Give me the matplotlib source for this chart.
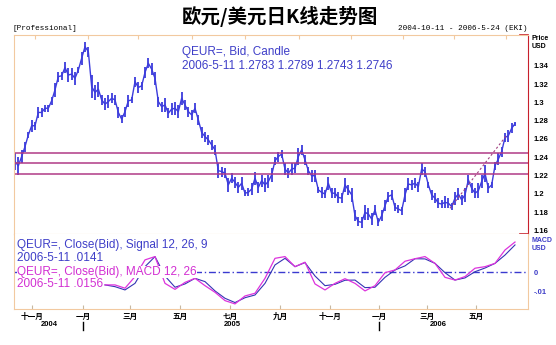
import numpy as np
import matplotlib.pyplot as plt

plt.rcParams['font.family'] = ['Noto Sans CJK SC', 'DejaVu Sans']

title = "欧元/美元日K线走势图"
range_text = "2004-10-11 - 2006-5-24 (EKI)"
last_date = "2006-5-11"

# daily bars, high / low
bar_high = [
    1.2444, 1.2407, 1.2480, 1.2571, 1.2680, 1.2808, 1.2790, 1.2953, 1.2935, 1.2972,
    1.2972, 1.3063, 1.3208, 1.3336, 1.3336, 1.3445, 1.3372, 1.3372, 1.3336, 1.3390,
    1.3554, 1.3663, 1.3609, 1.3299, 1.3190, 1.3226, 1.3081, 1.3044, 1.3081, 1.3099,
    1.3081, 1.2953, 1.2862, 1.2953, 1.3081, 1.3063, 1.3281, 1.3226, 1.3226, 1.3390,
    1.3481, 1.3427, 1.3336, 1.3063, 1.3008, 1.3044, 1.2935, 1.2990, 1.3008, 1.2972,
    1.3117, 1.3026, 1.2953, 1.2917, 1.2990, 1.2862, 1.2735, 1.2680, 1.2644, 1.2589,
    1.2535, 1.2335, 1.2298, 1.2280, 1.2171, 1.2225, 1.2189, 1.2134, 1.2189, 1.2043,
    1.2062, 1.2116, 1.2244, 1.2134, 1.2207, 1.2171, 1.2207,
    1.2280, 1.2407, 1.2462, 1.2480, 1.2335, 1.2280, 1.2335, 1.2335, 1.2498, 1.2535,
    1.2426, 1.2298, 1.2262, 1.2262, 1.2080, 1.2080, 1.2043, 1.2189, 1.2062, 1.2062,
    1.2025, 1.2007, 1.2171, 1.2098, 1.2062, 1.1825, 1.1752, 1.1752, 1.1880, 1.1843,
    1.1789, 1.1880, 1.1734, 1.1825, 1.1934, 1.2025, 1.2043, 1.1898, 1.1880, 1.1861,
    1.2062, 1.2171, 1.2153, 1.2171, 1.2134, 1.2335, 1.2298, 1.2134, 1.2043, 1.2007,
    1.1952, 1.1934, 1.1971, 1.1952, 1.1898, 1.2025, 1.2062, 1.1989, 1.2062, 1.2207,
    1.2116, 1.2062, 1.2116, 1.2207, 1.2316, 1.2116, 1.2134, 1.2353, 1.2444, 1.2517,
    1.2662, 1.2699, 1.2771,
]
bar_low = [
    1.2262, 1.2207, 1.2335, 1.2462, 1.2608, 1.2680, 1.2699, 1.2826, 1.2844, 1.2899,
    1.2899, 1.2972, 1.3063, 1.3226, 1.3245, 1.3317, 1.3226, 1.3245, 1.3190, 1.3317,
    1.3408, 1.3554, 1.3499, 1.3044, 1.3026, 1.3063, 1.2972, 1.2917, 1.2935, 1.2990,
    1.2972, 1.2826, 1.2771, 1.2844, 1.2953, 1.2990, 1.3172, 1.3099, 1.3135, 1.3263,
    1.3372, 1.3299, 1.3190, 1.2953, 1.2899, 1.2899, 1.2826, 1.2862, 1.2862, 1.2826,
    1.2972, 1.2917, 1.2844, 1.2808, 1.2881, 1.2753, 1.2608, 1.2571, 1.2535, 1.2480,
    1.2426, 1.2171, 1.2189, 1.2171, 1.2025, 1.2116, 1.2062, 1.2007, 1.2043, 1.1971,
    1.1971, 1.1989, 1.2098, 1.2007, 1.2080, 1.2025, 1.2062,
    1.2134, 1.2316, 1.2353, 1.2389, 1.2207, 1.2171, 1.2207, 1.2225, 1.2316, 1.2426,
    1.2316, 1.2207, 1.2134, 1.2134, 1.2007, 1.1952, 1.1952, 1.2043, 1.1952, 1.1952,
    1.1898, 1.1898, 1.2025, 1.1989, 1.1916, 1.1698, 1.1643, 1.1625, 1.1716, 1.1716,
    1.1661, 1.1770, 1.1643, 1.1698, 1.1807, 1.1916, 1.1934, 1.1807, 1.1789, 1.1770,
    1.1916, 1.2043, 1.2043, 1.2062, 1.2025, 1.2207, 1.2189, 1.2062, 1.1934, 1.1898,
    1.1843, 1.1843, 1.1843, 1.1843, 1.1825, 1.1880, 1.1934, 1.1880, 1.1916, 1.2098,
    1.2007, 1.1952, 1.1952, 1.2062, 1.2134, 1.2007, 1.2062, 1.2262, 1.2316, 1.2407,
    1.2571, 1.2571, 1.2662,
]
# open, high, low, close of the last bar
last_ohlc = [1.2783, 1.2789, 1.2743, 1.2746]

levels = [1.2451, 1.2333, 1.2215]
trend_x = [130.5, 147.6]
trend_y = [1.1842, 1.2645]

# MACD(12,26) and signal(9), every third bar from bar 27
macd_start = 27
macd_step = 3
macd = [
    -0.0065, -0.0065, -0.0082, -0.0022, 0.0064, 0.0081, -0.0057, -0.0088, -0.0052, -0.0031,
    -0.0069, -0.0103, -0.0146, -0.0163, -0.0122, -0.0108, -0.0031, 0.0072, 0.0081, 0.0029,
    0.0052, -0.0060, -0.0091, -0.0057, -0.0033, -0.0057, -0.0096, -0.0069, -0.0002, 0.0012,
    0.0057, 0.0070, 0.0081, 0.0046, -0.0026, -0.0040, -0.0022, 0.0021, 0.0029, 0.0046,
    0.0115, 0.0156,
]
signal = [
    -0.0065, -0.0074, -0.0091, -0.0057, 0.0029, 0.0081, -0.0019, -0.0077, -0.0060, -0.0031,
    -0.0048, -0.0096, -0.0134, -0.0156, -0.0131, -0.0117, -0.0057, 0.0038, 0.0072, 0.0029,
    0.0050, -0.0019, -0.0069, -0.0062, -0.0041, -0.0040, -0.0079, -0.0077, -0.0026, 0.0012,
    0.0033, 0.0070, 0.0069, 0.0046, -0.0002, -0.0040, -0.0029, 0.0003, 0.0022, 0.0046,
    0.0089, 0.0141,
]

month_pos = [5.1, 20.4, 34.5, 49.5, 64.5, 79.5, 94.5, 109.2, 123.6, 138.3]
month_labels = ["十一月", "一月", "三月", "五月", "七月", "九月", "十一月", "一月", "三月", "五月"]
year_pos = [10.2, 65.1, 126.9]
year_labels = ["2004", "2005", "2006"]
year_breaks = [20.4, 109.2]
top_ticks = [6.0, 21.9, 36.9, 53.1, 69.0, 85.2, 100.8, 116.4, 131.7, 147.3]
price_ticks = [1.16, 1.18, 1.2, 1.22, 1.24, 1.26, 1.28, 1.3, 1.32, 1.34]
macd_ticks = [-0.01, 0.0]
macd_tick_labels = ["-.01", "0"]

candle_color = '#3c3cdc'
macd_color = '#dd33dd'
signal_color = '#3434b4'
level_color = '#b03a86'
frame_color = '#f2c9a0'
red = '#c8202c'
blue_txt = '#3e3ec8'
mag_txt = '#d22ed2'

highs = np.array(bar_high + [last_ohlc[1]])
lows = np.array(bar_low + [last_ohlc[2]])
x = np.arange(len(highs))
mx = np.arange(len(macd)) * macd_step + macd_start

fig = plt.figure(figsize=(5.56, 3.45), dpi=100)
ax = fig.add_axes([14 / 556, 1 - 234 / 345, 514 / 556, 199 / 345])
ax2 = fig.add_axes([14 / 556, 1 - 309 / 345, 514 / 556, 75 / 345])

# ---- price panel: high-low bars joined bar to bar
ax.vlines(x, lows, highs, color=candle_color, linewidth=1.3)
ax.plot(x, (highs + lows) / 2, color=candle_color, linewidth=1.0)
for lv in levels:
    ax.axhline(lv, color=level_color, linewidth=1.1)
ax.plot(trend_x, trend_y, color='#a04080', linewidth=0.8, linestyle=(0, (2, 2)))
ax.set_xlim(-0.3, 153.9)
ax.set_ylim(1.1561, 1.3736)

ax.yaxis.tick_right()
ax.set_yticks(price_ticks)
ax.set_yticklabels(['%g' % t for t in price_ticks], fontfamily='Liberation Sans',
                   fontweight='bold', fontsize=5.5)
ax.tick_params(axis='y', length=0, pad=4)
ax.set_xticks(top_ticks)
ax.tick_params(axis='x', top=True, bottom=False, labeltop=False, labelbottom=False,
               direction='in', length=3, color=frame_color)
for s in ['left', 'top', 'bottom']:
    ax.spines[s].set_color(frame_color)
ax.spines['right'].set_color(red)
ax.plot([0.985, 1.0], [1.0, 1.0], transform=ax.transAxes, color=red, lw=1.2, clip_on=False)
ax.plot([0.985, 1.0], [0.0, 0.0], transform=ax.transAxes, color=red, lw=1.2, clip_on=False)

o_, h_, l_, c_ = last_ohlc
ax.text(0.327, 0.915, "QEUR=, Bid, Candle", transform=ax.transAxes, va='center',
        color=blue_txt, fontsize=8.5, family='Liberation Sans')
ax.text(0.327, 0.844, f"{last_date} {o_:.4f} {h_:.4f} {l_:.4f} {c_:.4f}",
        transform=ax.transAxes, va='center', color=blue_txt, fontsize=8.5,
        family='Liberation Sans')

# ---- MACD panel
ax2.axhline(0, color='#3a3ad0', linewidth=1.0, linestyle=(0, (5, 2, 1, 2)))
ax2.plot(mx, signal, color=signal_color, linewidth=0.8)
ax2.plot(mx, macd, color=macd_color, linewidth=0.9)
ax2.set_xlim(-0.3, 153.9)
ax2.set_ylim(-0.01892, 0.01974)
ax2.yaxis.tick_right()
ax2.set_yticks(macd_ticks)
ax2.set_yticklabels(macd_tick_labels, fontfamily='Liberation Sans', fontweight='bold',
                    fontsize=5.5, color=blue_txt)
ax2.tick_params(axis='y', length=0, pad=4)
ax2.set_xticks(month_pos)
ax2.set_xticklabels(month_labels, fontsize=5.5, fontweight='bold')
ax2.tick_params(axis='x', direction='in', length=3, color='#c8b8a0', pad=2)
for s in ax2.spines.values():
    s.set_color(frame_color)
ax2.spines['top'].set_visible(False)

box = dict(facecolor='white', edgecolor='none', pad=0.3)
mtexts = [
    (0.853, "QEUR=, Close(Bid), Signal 12, 26, 9", blue_txt),
    (0.680, f"{last_date} " + f"{signal[-1]:.4f}".lstrip('0'), blue_txt),
    (0.493, "QEUR=, Close(Bid), MACD 12, 26", mag_txt),
    (0.333, f"{last_date} " + f"{macd[-1]:.4f}".lstrip('0'), mag_txt),
]
for yy, s, c in mtexts:
    ax2.text(0.006, yy, s, transform=ax2.transAxes, va='center', color=c, fontsize=8.5,
             family='Liberation Sans', bbox=box)

trans = ax2.get_xaxis_transform()
for p, lab in zip(year_pos, year_labels):
    ax2.text(p, -0.21, lab, transform=trans, ha='center', va='center', fontsize=5.5,
             fontweight='bold', family='Liberation Sans')
for p in year_breaks:
    ax2.plot([p, p], [-0.17, -0.28], transform=trans, color='black', lw=1.0, clip_on=False)

# ---- header and axis captions
fig.text(0.504, 0.953, title, ha='center', va='center', fontsize=14, fontweight='bold')
fig.text(12 / 556, 0.916, "[Professional]", ha='left', va='center', fontsize=5.5,
         family='Liberation Mono')
fig.text(528 / 556, 0.916, range_text, ha='right', va='center', fontsize=5.5,
         family='Liberation Mono')
for yy, s, c in [(39, "Price", 'black'), (47, "USD", 'black'),
                 (240, "MACD", blue_txt), (248, "USD", blue_txt)]:
    fig.text(532 / 556, 1 - yy / 345, s, ha='left', va='center', fontsize=5,
             fontweight='bold', family='Liberation Sans', color=c)

fig.savefig('out.png', dpi=100)
